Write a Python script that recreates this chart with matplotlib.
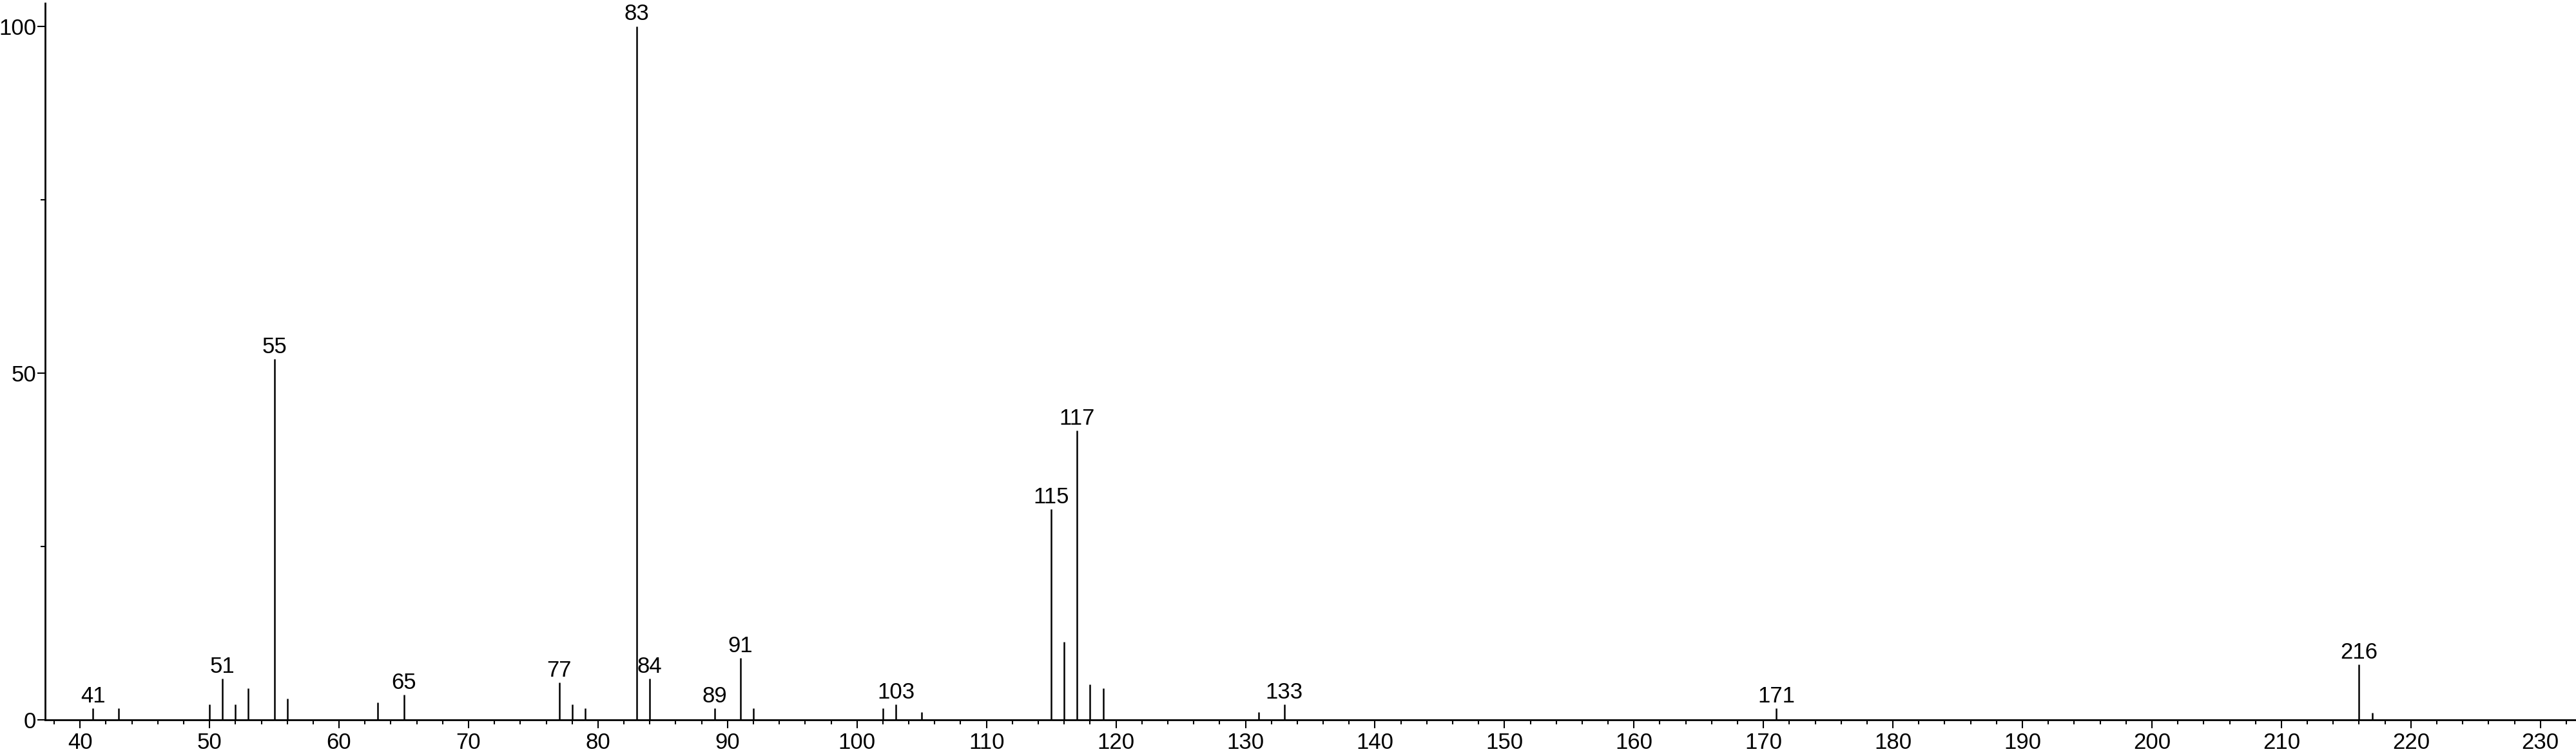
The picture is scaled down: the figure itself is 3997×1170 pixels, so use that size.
import matplotlib
matplotlib.use("Agg")
import matplotlib.pyplot as plt
from matplotlib.ticker import MultipleLocator

plt.rcParams['font.family'] = ['Liberation Sans', 'DejaVu Sans']

# spectre de masse : m/z et intensité relative (%)
mz = [41, 43, 50, 51, 52, 53, 55, 56, 63, 65, 77, 78, 79, 83, 84, 89, 91, 92,
      102, 103, 105, 115, 116, 117, 118, 119, 131, 133, 171, 216, 217]
intensity = [1.7, 1.7, 2.2, 5.95, 2.2, 4.55, 52.0, 3.1, 2.5, 3.65, 5.35, 2.2,
             1.7, 100.0, 5.95, 1.65, 8.9, 1.7, 1.7, 2.25, 1.1, 30.4, 11.2, 41.7,
             5.1, 4.55, 1.1, 2.25, 1.65, 8.0, 1.0]

# pics annotés
labeled = [41, 51, 55, 65, 77, 83, 84, 89, 91, 103, 115, 117, 133, 171, 216]

fig = plt.figure(figsize=(39.98, 11.7), dpi=100)
ax = fig.add_axes([0.0175, 0.0453, 0.9825, 0.9504])

ax.vlines(mz, 0, intensity, colors='black', linewidth=1.8)

for m, h in zip(mz, intensity):
    if m in labeled:
        ax.annotate(str(m), (m, h), xytext=(0, 1.5), textcoords='offset points',
                    ha='center', va='bottom', fontsize=25)

ax.set_xlim(37.3, 232.8)
ax.set_ylim(0, 103.3)

ax.xaxis.set_major_locator(MultipleLocator(10))
ax.xaxis.set_minor_locator(MultipleLocator(2))
ax.yaxis.set_major_locator(MultipleLocator(50))
ax.yaxis.set_minor_locator(MultipleLocator(25))

ax.tick_params(which='major', length=9, width=1.5, labelsize=25, direction='out')
ax.tick_params(which='minor', length=5, width=1.5, direction='out')
ax.tick_params(axis='x', which='major', pad=5)
ax.tick_params(axis='y', which='major', pad=1)

for side in ['top', 'right']:
    ax.spines[side].set_visible(False)
for side in ['left', 'bottom']:
    ax.spines[side].set_linewidth(2)

fig.savefig('out.png', dpi=100)
